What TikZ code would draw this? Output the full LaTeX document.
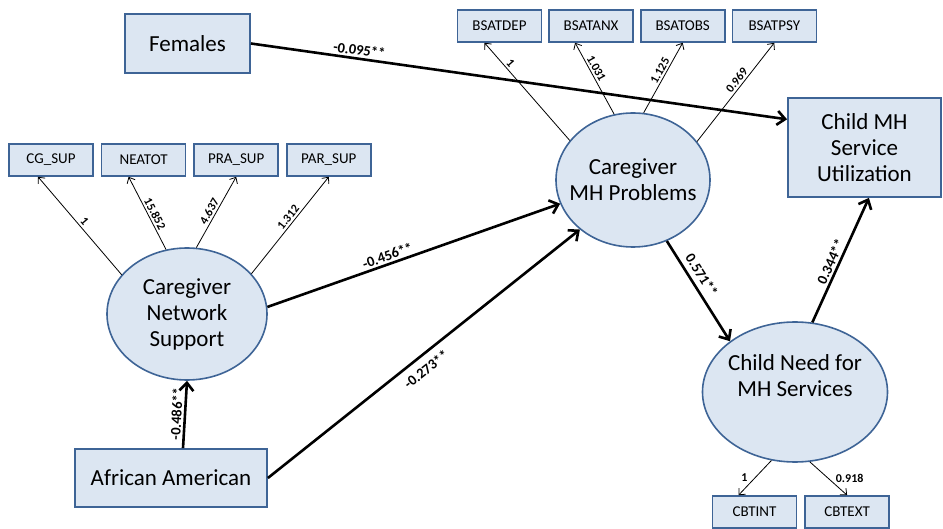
\documentclass[tikz,border=0pt]{standalone}
\usepackage{fontspec}
\setmainfont{Carlito}
\usetikzlibrary{arrows.meta,positioning,shapes.geometric}
\definecolor{semfill}{RGB}{220,230,242}
\definecolor{semline}{RGB}{62,100,150}
\tikzset{
  latent/.style={ellipse, draw=semline, line width=1.6pt, fill=semfill, inner xsep=-18pt, inner ysep=0pt, align=center, font=\fontsize{23}{26}\selectfont},
  bigbox/.style={rectangle, draw=semline, line width=1.8pt, fill=semfill, inner sep=0pt, align=center, font=\fontsize{23}{26}\selectfont},
  indic/.style={rectangle, draw=semline, line width=1.6pt, fill=semfill, minimum width=84pt, minimum height=32pt, inner sep=0pt, font=\fontsize{15}{17}\selectfont},
  regpath/.style={line width=2.6pt, -{Straight Barb[length=8pt,width=14pt]}},
  loadpath/.style={line width=0.8pt, -{Straight Barb[length=5pt,width=9pt]}},
  coef/.style={font=\bfseries\fontsize{14.5}{16}\selectfont, inner sep=2pt},
  loadlab/.style={font=\bfseries\fontsize{12}{14}\selectfont, inner sep=2pt},
}
\begin{document}
\begin{tikzpicture}[x=1pt,y=-1pt]
\useasboundingbox (0,0) rectangle (943,529);

% exogenous variables
\node[bigbox, minimum width=125pt, minimum height=59pt] (females) at (187.5,43.5) {Females};
\node[bigbox, minimum width=192pt, minimum height=58pt] (afam) at (171,478) {African American};
\node[bigbox, minimum width=153pt, minimum height=99pt] (cmsu) at (864.5,147.5) {Child MH\\Service\\Utilization};

% latent factors
\node[latent, minimum width=160pt, minimum height=132pt] (cns) at (187,314) {Caregiver\\Network\\Support};
\node[latent, minimum width=154pt, minimum height=134pt] (cmh) at (633,180) {Caregiver\\MH Problems};
\node[latent, minimum width=185pt, minimum height=140pt] (cnd) at (795,392) {Child Need for\\MH Services\\[6pt]};

% indicators
\node[indic] (cgsup) at (51,160) {CG\_SUP};
\node[indic, right=7pt of cgsup] (neatot) {NEATOT};
\node[indic, right=7pt of neatot] (prasup) {PRA\_SUP};
\node[indic, right=7pt of prasup] (parsup) {PAR\_SUP};

\node[indic] (bdep) at (499.5,26) {BSATDEP};
\node[indic, right=6pt of bdep] (banx) {BSATANX};
\node[indic, right=6pt of banx] (bobs) {BSATOBS};
\node[indic, right=6pt of bobs] (bpsy) {BSATPSY};

\node[indic] (cbtint) at (754.5,512) {CBTINT};
\node[indic, right=7pt of cbtint] (cbtext) {CBTEXT};

% loadings
\draw[loadpath] (cns.149) -- node[loadlab, sloped, above] {1} ([xshift=-13pt]cgsup.south);
\draw[loadpath] (cns.108) -- node[loadlab, sloped, above, pos=0.45] {15.852} ([xshift=-15pt]neatot.south);
\draw[loadpath] (cns.82) -- node[loadlab, sloped, above, pos=0.47] {4.637} (prasup.south);
\draw[loadpath] (cns.32) -- node[loadlab, sloped, above, pos=0.54] {1.312} (parsup.south);

\draw[loadpath] (cmh.148) -- node[loadlab, sloped, above, pos=0.75] {1} ([xshift=-15pt]bdep.south);
\draw[loadpath] (cmh.106) -- node[loadlab, sloped, above, pos=0.6] {1.031} ([xshift=-16pt]banx.south);
\draw[loadpath] (cmh.81) -- node[loadlab, sloped, above, pos=0.56] {1.125} (bobs.south);
\draw[loadpath] (cmh.31) -- node[loadlab, sloped, above, pos=0.58] {0.969} (bpsy.south);

\draw[loadpath] (cnd.251) -- node[loadlab, left=5pt] {1} ([xshift=-16pt]cbtint.north);
\draw[loadpath] (cnd.282) -- node[loadlab, right=5pt] {0.918} (cbtext.north);

% structural paths
\draw[regpath] (females.east) -- node[coef, sloped, above, pos=0.2] {-0.095**} (cmsu.160);
\draw[regpath] (cns.5) -- node[coef, sloped, above, pos=0.42] {-0.456**} (cmh.198);
\draw[regpath] (afam.east) -- node[coef, sloped, below=5pt, pos=0.48] {-0.273**} (cmh.223);
\draw[regpath] ([xshift=12pt]afam.north) -- node[coef, sloped, above] {-0.486**} (cns.south);
\draw[regpath] (cmh.-61) -- node[coef, sloped, above=3pt, pos=0.4] {0.571**} (cnd.142);
\draw[regpath] (cnd.76) -- node[coef, sloped, above, pos=0.46] {0.344**} (cmsu.-85);
\end{tikzpicture}
\end{document}
